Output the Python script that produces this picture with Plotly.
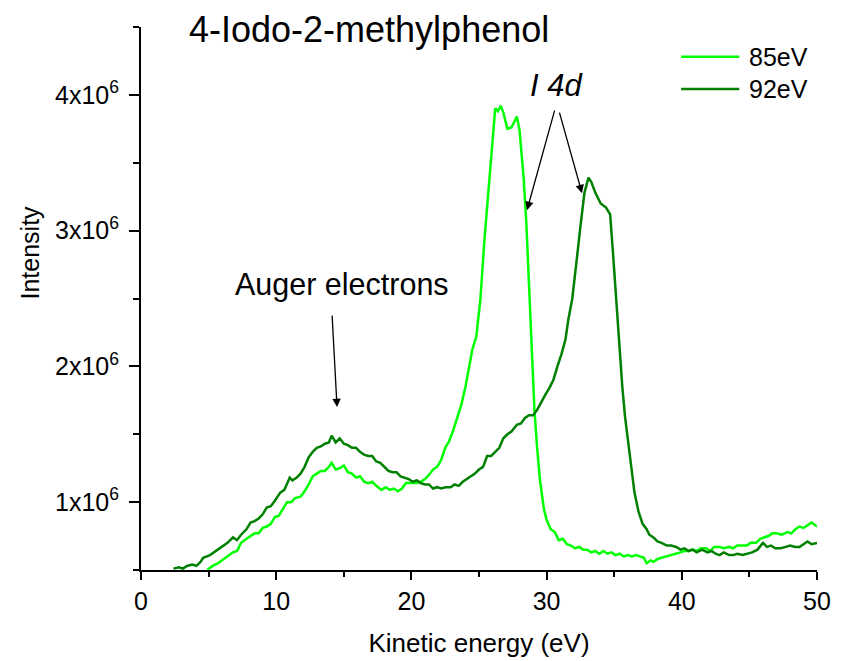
import plotly.graph_objects as go

# ---- data ----
energy_85 = [4.9, 5.3, 5.7, 6.1, 6.5, 6.8, 7.1, 7.4, 7.8, 8.1, 8.4, 8.7, 9.0, 9.3, 9.6, 9.9,
             10.2, 10.5, 10.8, 11.1, 11.4, 11.8, 12.1, 12.4, 12.7, 13.0, 13.3, 13.6, 13.9, 14.1,
             14.4, 14.7, 15.0, 15.3, 15.6, 15.9, 16.2, 16.5, 16.8, 17.1, 17.4, 17.8, 18.1, 18.4,
             18.7, 19.0, 19.3, 19.6, 20.0, 20.4, 20.7, 21.0, 21.3, 21.6, 21.9, 22.2, 22.5, 22.8,
             23.1, 23.4, 23.7, 24.0, 24.2, 24.5, 24.8, 25.1, 25.4, 25.8, 26.2, 26.4, 26.6, 26.8,
             27.1, 27.4, 27.8, 28.0, 28.3, 28.5, 28.7, 28.9, 29.1, 29.3, 29.5, 29.8, 30.0, 30.3,
             30.6, 30.9, 31.2, 31.5, 31.8, 32.1, 32.4, 32.7, 33.0, 33.3, 33.6, 33.9, 34.2, 34.5,
             34.8, 35.1, 35.4, 35.7, 36.0, 36.3, 36.6, 36.9, 37.2, 37.4, 37.7, 37.9, 38.2, 38.5,
             38.9, 39.2, 39.6, 39.9, 40.2, 40.5, 40.8, 41.1, 41.4, 41.8, 42.1, 42.4, 42.8, 43.1,
             43.5, 43.8, 44.1, 44.5, 44.8, 45.1, 45.5, 45.8, 46.1, 46.4, 46.7, 47.0, 47.4, 47.8,
             48.1, 48.4, 48.7, 49.0, 49.3, 49.6, 50.0]
intensity_85 = [0.50, 0.53, 0.55, 0.58, 0.61, 0.63, 0.64, 0.70, 0.73, 0.75, 0.77, 0.77, 0.81, 0.82,
                0.84, 0.89, 0.90, 0.95, 1.00, 1.00, 1.03, 1.04, 1.08, 1.13, 1.19, 1.21, 1.23, 1.23,
                1.26, 1.29, 1.24, 1.25, 1.27, 1.22, 1.21, 1.18, 1.19, 1.15, 1.14, 1.15, 1.12, 1.09,
                1.11, 1.09, 1.10, 1.08, 1.10, 1.14, 1.14, 1.14, 1.15, 1.17, 1.20, 1.24, 1.26, 1.31,
                1.40, 1.45, 1.53, 1.63, 1.72, 1.85, 1.97, 2.12, 2.22, 2.49, 2.93, 3.42, 3.90, 3.88,
                3.92, 3.87, 3.75, 3.76, 3.84, 3.74, 3.39, 3.06, 2.56, 2.15, 1.68, 1.40, 1.17, 0.95,
                0.87, 0.80, 0.78, 0.72, 0.73, 0.69, 0.68, 0.66, 0.67, 0.65, 0.65, 0.63, 0.64, 0.62,
                0.64, 0.62, 0.63, 0.61, 0.62, 0.60, 0.61, 0.60, 0.61, 0.60, 0.59, 0.55, 0.57, 0.56,
                0.58, 0.59, 0.60, 0.61, 0.62, 0.63, 0.64, 0.64, 0.65, 0.64, 0.66, 0.66, 0.64, 0.67,
                0.67, 0.66, 0.67, 0.66, 0.68, 0.68, 0.68, 0.70, 0.70, 0.73, 0.74, 0.75, 0.77, 0.77,
                0.76, 0.78, 0.77, 0.80, 0.82, 0.81, 0.83, 0.85, 0.82]

energy_92 = [2.4, 2.8, 3.1, 3.4, 3.8, 4.1, 4.4, 4.6, 5.1, 5.4, 5.8, 6.0, 6.4, 6.8, 7.1, 7.4, 7.8,
             8.1, 8.4, 8.7, 9.0, 9.3, 9.6, 9.9, 10.3, 10.6, 11.0, 11.2, 11.5, 11.8, 12.1, 12.4,
             12.7, 13.0, 13.3, 13.6, 13.9, 14.1, 14.4, 14.7, 15.0, 15.3, 15.6, 15.9, 16.2, 16.5,
             16.8, 17.1, 17.4, 17.7, 18.0, 18.3, 18.6, 18.9, 19.2, 19.5, 19.8, 20.1, 20.4, 20.7,
             21.0, 21.3, 21.6, 21.9, 22.2, 22.5, 22.9, 23.2, 23.5, 23.8, 24.1, 24.4, 24.7, 25.0,
             25.3, 25.6, 25.9, 26.2, 26.5, 26.8, 27.1, 27.4, 27.8, 28.1, 28.4, 28.7, 29.0, 29.3,
             29.6, 29.9, 30.2, 30.5, 30.8, 31.1, 31.4, 31.6, 31.9, 32.1, 32.3, 32.5, 32.8, 33.1,
             33.3, 33.6, 34.0, 34.4, 34.7, 34.9, 35.2, 35.4, 35.6, 35.8, 36.0, 36.2, 36.5, 36.8,
             37.1, 37.4, 37.6, 37.9, 38.2, 38.5, 38.9, 39.2, 39.6, 39.9, 40.2, 40.5, 40.8, 41.1,
             41.5, 41.9, 42.2, 42.5, 42.8, 43.1, 43.5, 43.8, 44.1, 44.5, 44.8, 45.2, 45.6, 46.0,
             46.3, 46.6, 46.9, 47.3, 47.7, 48.0, 48.4, 48.7, 49.0, 49.3, 49.6, 50.0]
intensity_92 = [0.51, 0.52, 0.51, 0.53, 0.54, 0.53, 0.56, 0.59, 0.61, 0.63, 0.66, 0.67, 0.70, 0.74,
                0.72, 0.76, 0.80, 0.85, 0.86, 0.88, 0.91, 0.96, 0.97, 1.01, 1.07, 1.09, 1.18, 1.16,
                1.18, 1.21, 1.26, 1.33, 1.37, 1.40, 1.41, 1.43, 1.44, 1.49, 1.44, 1.47, 1.43, 1.42,
                1.40, 1.40, 1.37, 1.35, 1.34, 1.34, 1.30, 1.29, 1.26, 1.23, 1.22, 1.22, 1.19, 1.18,
                1.17, 1.15, 1.16, 1.14, 1.13, 1.13, 1.10, 1.11, 1.10, 1.11, 1.11, 1.13, 1.12, 1.15,
                1.17, 1.19, 1.21, 1.24, 1.26, 1.34, 1.34, 1.37, 1.40, 1.47, 1.50, 1.52, 1.57, 1.58,
                1.62, 1.64, 1.64, 1.68, 1.74, 1.79, 1.84, 1.90, 2.00, 2.09, 2.20, 2.34, 2.50, 2.66,
                2.85, 3.03, 3.28, 3.39, 3.36, 3.28, 3.20, 3.17, 3.12, 2.85, 2.41, 2.12, 1.85, 1.63,
                1.46, 1.31, 1.07, 0.93, 0.84, 0.80, 0.76, 0.74, 0.71, 0.70, 0.68, 0.68, 0.67, 0.65,
                0.66, 0.64, 0.65, 0.63, 0.65, 0.63, 0.64, 0.62, 0.61, 0.63, 0.61, 0.61, 0.62, 0.61,
                0.62, 0.63, 0.65, 0.70, 0.67, 0.68, 0.66, 0.66, 0.67, 0.68, 0.67, 0.67, 0.69, 0.71,
                0.69, 0.70]

series_names = ["85eV", "92eV"]
series_colors = ["#00FF00", "#008000"]

y_tick_vals = [1e6, 2e6, 3e6, 4e6]
y_tick_text = ["1x10<sup>6</sup>", "2x10<sup>6</sup>", "3x10<sup>6</sup>", "4x10<sup>6</sup>"]
y_minor_vals = [0.5e6, 1.5e6, 2.5e6, 3.5e6, 4.5e6]
x_tick_vals = [0, 10, 20, 30, 40, 50]

FONT = "Liberation Sans, Arial, sans-serif"

fig = go.Figure()
for xs, ys, name, col in [(energy_85, intensity_85, series_names[0], series_colors[0]),
                          (energy_92, intensity_92, series_names[1], series_colors[1])]:
    fig.add_trace(go.Scatter(x=xs, y=[v * 1e6 for v in ys], mode="lines", name=name,
                             line=dict(color=col, width=2.5), showlegend=False))

axis_common = dict(showline=True, linecolor="black", linewidth=2, ticks="outside",
                   tickwidth=2, tickcolor="black", showgrid=False, zeroline=False,
                   automargin=False,
                   tickfont=dict(family=FONT, size=25, color="black"))

fig.update_xaxes(range=[0, 50], tickmode="array", tickvals=x_tick_vals, ticklen=8,
                 minor=dict(dtick=5, tick0=0, ticklen=5, tickwidth=2, tickcolor="black", ticks="outside"),
                 title=dict(text="Kinetic energy (eV)", font=dict(family=FONT, size=26, color="black"),
                            standoff=20),
                 **axis_common)
fig.update_yaxes(range=[0.5e6, 4.5e6], tickmode="array", tickvals=y_tick_vals, ticktext=y_tick_text,
                 ticklen=10, ticklabelstandoff=5,
                 minor=dict(tickmode="array", tickvals=y_minor_vals, ticklen=6, tickwidth=2,
                            tickcolor="black", ticks="outside"),
                 **axis_common)

# legend drawn as line samples + labels
legend_rows = [0.945, 0.886]
for (yy, name, col) in zip(legend_rows, series_names, series_colors):
    fig.add_shape(type="line", xref="paper", yref="paper", x0=0.799, x1=0.885, y0=yy, y1=yy,
                  line=dict(color=col, width=2.5))
    fig.add_annotation(xref="paper", yref="paper", x=0.897, y=yy, text=name, showarrow=False,
                       xanchor="left", yanchor="middle",
                       font=dict(family=FONT, size=25, color="black"))

# texts
fig.add_annotation(xref="paper", yref="paper", x=0.337, y=0.9963, text="4-Iodo-2-methylphenol",
                   showarrow=False, xanchor="center", yanchor="middle",
                   font=dict(family=FONT, size=36, color="black"))
fig.add_annotation(xref="paper", yref="paper", x=-0.164, y=0.585, text="Intensity", textangle=-90,
                   showarrow=False, xanchor="center", yanchor="middle",
                   font=dict(family=FONT, size=25, color="black"))
fig.add_annotation(x=14.87, y=2.60e6, text="Auger electrons", showarrow=False,
                   font=dict(family=FONT, size=30.5, color="black"))
fig.add_annotation(x=30.7, y=4.07e6, text="<i>I 4d</i>", showarrow=False,
                   font=dict(family=FONT, size=31, color="black"))

# arrows
arrows = [((14.13, 2.385e6), (14.5, 1.70e6)),
          ((30.62, 3.895e6), (28.55, 3.151e6)),
          ((30.92, 3.880e6), (32.62, 3.276e6))]
for (tx, ty), (hx, hy) in arrows:
    fig.add_annotation(x=hx, y=hy, ax=tx, ay=ty, xref="x", yref="y", axref="x", ayref="y",
                       text="", showarrow=True, arrowhead=2, arrowsize=1.3, arrowwidth=1.3,
                       arrowcolor="black")

# the page places the figure 8px from the top-left corner, so the figure is 8px smaller
fig.update_layout(width=835, height=653, margin=dict(l=133, r=26, t=19, b=91),
                  plot_bgcolor="white", paper_bgcolor="white",
                  font=dict(family=FONT, color="black"))

fig.write_html("out.html")
